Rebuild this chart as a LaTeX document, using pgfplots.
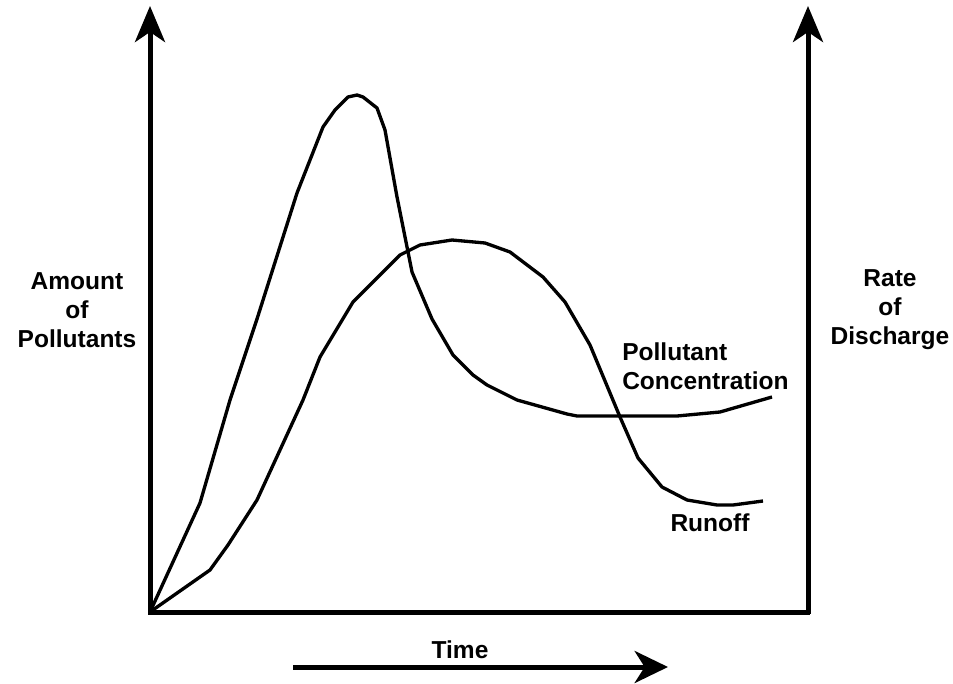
\documentclass[border=0pt]{standalone}
\usepackage{fontspec}
\setmainfont{Liberation Sans}
\usepackage{pgfplots}
\pgfplotsset{compat=1.18}
\usetikzlibrary{arrows.meta}
\begin{document}
\begin{tikzpicture}
\begin{axis}[
  scale only axis, width=714.75pt, height=511.5pt,
  xmin=-150, xmax=803, ymin=-70, ymax=612,
  hide axis, clip=false,
]
\path (axis cs:-150,-70) rectangle (axis cs:803,612);
% pollutant concentration (sharp peak)
\addplot[black, line width=2.5pt, line join=round, sharp plot] coordinates {
(0,0) (50,109) (80,212) (107,293) (147,419) (173,485) (185,502) (198,515)
(207,517) (213,515) (227,504) (235,482) (247,415) (262,340) (282,293)
(303,257) (323,237) (337,227) (367,212) (417,198) (427,196) (527,196)
(570,200) (622,215)};
% runoff (broad)
\addplot[black, line width=2.5pt, line join=round, sharp plot] coordinates {
(0,0) (60,42) (78,67) (107,112) (153,212) (170,255) (203,310) (228,335)
(250,357) (270,367) (302,372) (335,369) (360,360) (393,335) (415,310)
(440,267) (470,195) (488,154) (512,125) (537,112) (567,107) (583,107) (613,111)};
% axes
\draw[line width=3.75pt] (axis cs:-2,0) -- (axis cs:660,0);
\draw[line width=3.75pt, -{Stealth[length=27pt, width=22.5pt, inset=7.5pt]}] (axis cs:0,-2) -- (axis cs:0,606);
\draw[line width=3.75pt, -{Stealth[length=27pt, width=22.5pt, inset=7.5pt]}] (axis cs:658,-2) -- (axis cs:658,606);
\draw[line width=3.75pt, -{Stealth[length=25pt, width=24pt, inset=7.5pt]}] (axis cs:143,-55) -- (axis cs:518,-55);
% labels
\tikzset{lab/.style={font=\fontsize{18.4}{21.75}\selectfont\bfseries, inner sep=0pt}}
\node[lab, align=center] at (axis cs:-73,302) {Amount\\of\\Pollutants};
\node[lab, align=center] at (axis cs:740,302) {Rate\\of\\Discharge};
\node[lab, align=left, anchor=west] at (axis cs:472,246) {Pollutant\\Concentration};
\node[lab] at (axis cs:560,89) {Runoff};
\node[lab] at (axis cs:310,-38) {Time};
\end{axis}
\end{tikzpicture}
\end{document}
